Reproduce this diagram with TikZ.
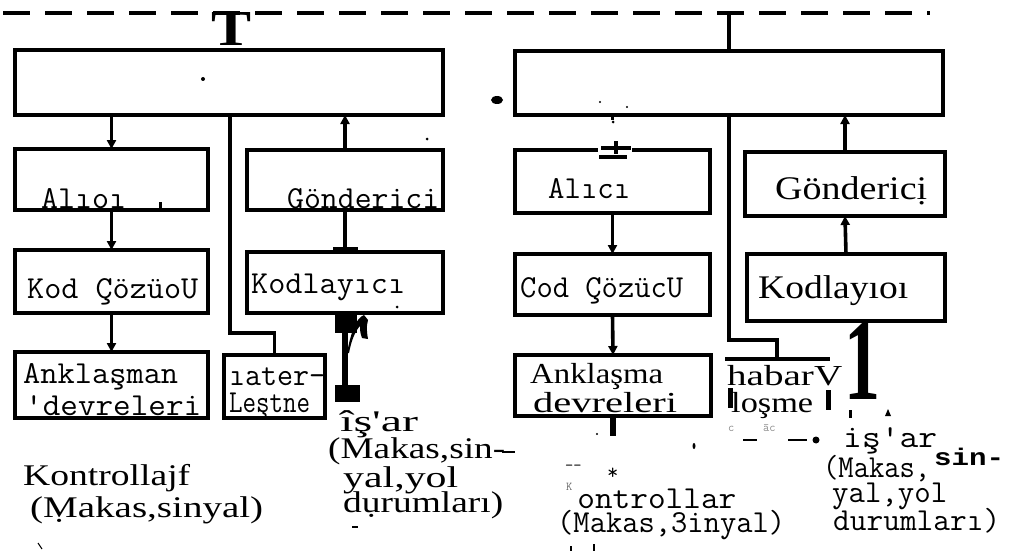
\documentclass[tikz,border=0pt]{standalone}
\usepackage{fontspec}
\usepackage{graphicx}
\setmainfont{Liberation Serif}
\newfontfamily\heavymono{Liberation Mono}
\usetikzlibrary{arrows.meta}

% stretch a text horizontally to a given width (pt), keeping its height
\newcommand\fw[2]{\resizebox{#1pt}{\height}{#2}}
% box given by the centre line of its border: name, x1, y1, x2, y2
\newcommand\bx[5]{\node[box,minimum width={#4-#2},minimum height={#5-#3}] (#1) at ({(#2+#4)/2},{(#3+#5)/2}) {};}
% multi-line label with exact baseline distances: \tline{distance}{indent}{text}
\newcommand\tgroup[1]{\vtop{\lineskiplimit=-\maxdimen\lineskip=0pt #1}}
\newcommand\tline[3]{\baselineskip=#1pt\hbox{\kern#2pt #3}}

\begin{document}
\begin{tikzpicture}[x=1pt,y=-1pt,
  box/.style={draw,rectangle,line width=3.8pt,inner sep=0pt,outer sep=0pt},
  link/.style={line width=3.6pt},
  arr/.style={link,-{Triangle[length=9pt,width=9pt]}},
  bus/.style={line width=4pt,dash pattern=on 27pt off 15pt},
  mtxt/.style={anchor=base west,inner sep=0pt,font=\ttfamily\fontsize{32}{33}\selectfont},
  stxt/.style={anchor=base west,inner sep=0pt,font=\rmfamily\fontsize{30}{32}\selectfont},
  small/.style={anchor=base west,inner sep=0pt,text=black!45,font=\ttfamily\fontsize{12}{12}\selectfont}]

\useasboundingbox (0,0) rectangle (1029,551);

% ---- dashed line bus ----
\coordinate (busL) at (3,13);
\coordinate (busR) at (930,13);
\draw[bus] (busL) -- (busR);

% ---- boxes ----
\bx{ltop}{15}{50}{443}{115}
\bx{rtop}{515}{51}{943}{115}
\bx{lalici}{15}{149}{208}{210}
\bx{lgond}{247}{150}{443}{210}
\bx{lkod}{15}{250}{208}{313}
\bx{lkodl}{247}{252}{443}{313}
\bx{lank}{15}{352}{208}{418}
\bx{later}{224}{355}{325}{418}
\bx{ralici}{515}{150}{710}{213}
\bx{rcod}{515}{254}{710}{315}
\bx{rank}{515}{355}{711}{416}
\bx{rgond}{745}{152}{945}{216}
\bx{rkodl}{747}{254}{945}{321}

% broken box on the right (only its top edge and two stubs survive)
\coordinate (habL) at (725,359);
\coordinate (habR) at (830,359);
\coordinate (habtop) at (777,359);
\draw[link] (habL) -- (habR);
\draw[line width=5pt] (730,388) -- (730,408);
\draw[line width=5pt] (828,390) -- (828,410);

% ---- bus taps ----
\node[inner sep=0pt,font=\rmfamily\bfseries] (tglyph) at (232,29) {\resizebox{40pt}{33pt}{T}};
\coordinate (rtap) at (729,13);
\draw[link] (rtap) -- (rtap |- rtop.north);

% ---- left chain ----
\draw[arr] (lalici.north |- ltop.south) -- (lalici.north);
\draw[arr] (lalici.south) -- (lkod.north);
\draw[arr] (lkod.south) -- (lank.north);
\draw[arr] (lgond.north) -- (lgond.north |- ltop.south);
\draw[link,-{Rectangle[length=5pt,width=25pt]}] (lgond.south) -- (lkodl.north);
\coordinate (lsplit) at (230,333);
\draw[link] (lsplit |- ltop.south) -- (lsplit) -| (later.north);

% output stem below the left coder
\coordinate (lout) at (346,402);
\fill (335,315) rectangle (357,333);
\draw[line width=6pt] (345,315) -- (345,390);
\fill (335,385) rectangle (360,402);
\fill (347,353) .. controls (351,332) and (356,318) .. (364,315)
      -- (368,320) .. controls (366,327) and (367,333) .. (368,339)
      -- (362,338) .. controls (360,333) and (360,329) .. (360,326)
      .. controls (355,331) and (351,342) .. (349,353) -- cycle;

% ---- right chain ----
\draw[link] (ralici.north |- rtop.south) -- ++(0,5);
\draw[arr] (ralici.south) -- (rcod.north);
\draw[arr] (rcod.south) -- (rank.north);
\draw[line width=6pt] (rank.south) -- ++(0,20);
\draw[arr] (rkodl.north) -- (rgond.south);
\draw[arr] (rgond.north) -- (rgond.north |- rtop.south);
\coordinate (rsplit) at (729,340);
\draw[link] (rsplit |- rtop.south) -- (rsplit) -| (habtop);
% plus-minus mark sitting on the receiver's top edge
\node[fill=white,inner sep=0pt,minimum width=34pt,minimum height=14pt] (pm) at (614.5,150) {};
\draw[line width=4.5pt] (601,148) -- (631,148);
\draw[line width=4.5pt] (616,141) -- (616,154);
\draw[line width=4pt] (599,157) -- (627,157);
\node[inner sep=0pt,font=\rmfamily\bfseries] (one) at (862,361) {\resizebox{36pt}{77pt}{1}};

% ---- labels, left half ----
\node[mtxt] (t1) at (41,208) {\fw{85}{Alıoı}};
\node[mtxt] (t2) at (287,208) {\fw{152}{Gönderici}};
\node[mtxt] (t3) at (27,298) {\fw{171}{Kod ÇözüoU}};
\node[mtxt] (t4) at (251,293) {\fw{154}{Kodlayıcı}};
\node[mtxt] (t5) at (23,383) {\tgroup{
  \tline{0}{0}{\fw{155}{Anklaşman}}
  \tline{32}{2}{\fw{176}{'devreleri}}}};
\node[mtxt] (t7) at (229,385) {\tgroup{
  \tline{0}{0}{\fw{96}{ıater-}}
  \tline{27}{0}{\fw{81}{Leştne}}}};
\node[stxt] (t9) at (328,431) {\tgroup{
  \tline{0}{12}{\fw{78}{îş\textquotesingle ar}}
  \tline{27}{0}{\fw{177}{(Makas,sin-}}
  \tline{29}{15}{\fw{115}{yal,yol}}
  \tline{25}{15}{\fw{160}{dụrumları)}}}};
\node[stxt] (t13) at (23,485) {\tgroup{
  \tline{0}{0}{\fw{167}{Kontrollajf}}
  \tline{32}{7}{\fw{233}{(Ṃakas,sinyal)}}}};

% ---- labels, right half ----
\node[mtxt] (u1) at (548,198) {\fw{82}{Alıcı}};
\node[mtxt] (u2) at (520,297) {\fw{163}{Cod ÇözücU}};
\node[stxt,font=\rmfamily\fontsize{33}{35}\selectfont] (u3) at (775,200) {\fw{152}{Göndericị}};
\node[stxt,font=\rmfamily\fontsize{33}{35}\selectfont] (u4) at (758,298) {\fw{150}{Kodlayıoı}};
\node[stxt,font=\rmfamily\fontsize{29}{31}\selectfont] (u5) at (530,383) {\tgroup{
  \tline{0}{0}{\fw{133}{Anklaşma}}
  \tline{29}{3}{\fw{144}{devreleri}}}};
\node[stxt,font=\rmfamily\fontsize{29}{31}\selectfont] (u7) at (727,385) {\tgroup{
  \tline{0}{0}{\fw{115}{habarV}}
  \tline{27}{4}{\fw{82}{loşme}}}};
\node[small] (u9) at (728,431) {c};
\node[small] (u10) at (763,431) {āc};
\node[mtxt] (u11) at (823,447) {\tgroup{
  \tline{0}{20}{\fw{94}{iş'ar}\kern-3pt\lower18pt\hbox{\heavymono\bfseries\fontsize{24}{24}\selectfont\fw{70}{sin-}}}
  \tline{30}{0}{\fw{107}{(Makas,}}
  \tline{25}{9}{\fw{115}{yal,yol}}
  \tline{28}{10}{\fw{167}{durumları)}}}};
\node[mtxt] (u16) at (557,508) {\tgroup{
  \tline{0}{9}{\raise18pt\hbox{\fontsize{12}{12}\selectfont\textcolor{black!60}{K}}\kern5pt\fw{159}{ontrollar}}
  \tline{24}{0}{\fw{228}{(Makas,3inyal)}}}};
\node[anchor=base west,inner sep=0pt,font=\ttfamily\fontsize{16}{16}\selectfont] (u19) at (565,470) {--};
\node[anchor=base west,inner sep=0pt,font=\ttfamily\fontsize{22}{22}\selectfont] (u20) at (607,479) {*};

% trailing mark row before the right-hand label
\draw[line width=2pt] (743,440) -- (757,440);
\draw[line width=2pt] (788,440) -- (807,440);
\fill (816,440) circle (3.5pt);

% ---- specks ----
\fill (203,79) circle (2pt);
\fill (497,100) ellipse (6pt and 4pt);
\fill (427,139) circle (1.5pt);
\fill (397,307) circle (1.5pt);
\fill (159,202) rectangle (162,210);
\fill (600,102) circle (1.2pt);
\fill (627,107) circle (1.2pt);
\fill (613,122) circle (1.5pt);
\fill (849,410) rectangle (852,418);
\fill (885,416) -- (888,409) -- (891,416) -- cycle;
\fill (597,434) circle (1.2pt);
\fill (694,446) ellipse (1.5pt and 3pt);
\draw[line width=1.5pt] (502,452) -- (515,452);
\draw[line width=1.2pt] (352,527) -- (358,527);
\draw[line width=1pt] (38,543) -- (42,549);
\fill (570,546) rectangle (572,551);
\fill (593,544) rectangle (595,551);
\end{tikzpicture}
\end{document}
